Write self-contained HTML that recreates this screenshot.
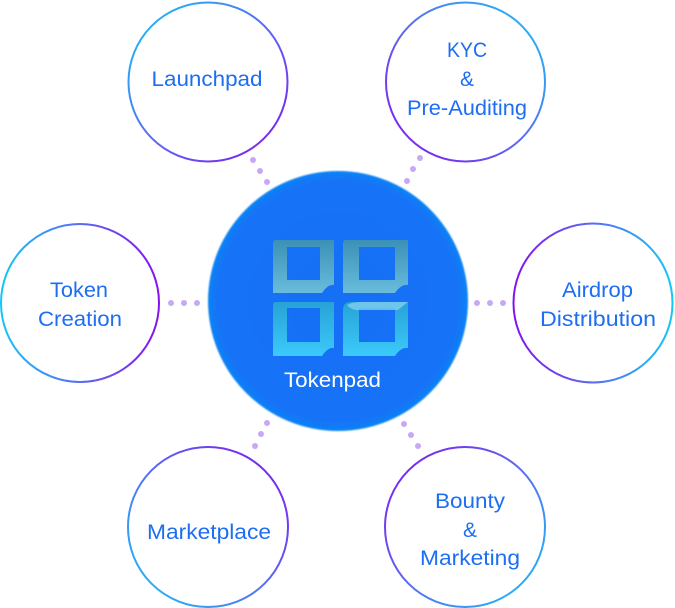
<!DOCTYPE html>
<html>
<head>
<meta charset="utf-8">
<style>
  html, body { margin: 0; padding: 0; background: #ffffff; }
  body { width: 675px; height: 608px; overflow: hidden; }
  svg { display: block; }
  .lbl { font-family: "Liberation Sans", sans-serif; font-size: 21px; fill: #1d6ef2; }
</style>
</head>
<body>
<svg width="675" height="608" viewBox="0 0 675 608" xmlns="http://www.w3.org/2000/svg">
  <defs>
    <linearGradient id="gLaunch" x1="0" y1="0" x2="1" y2="1">
      <stop offset="0" stop-color="#14c6f6"/>
      <stop offset="0.5" stop-color="#5a6cf2"/>
      <stop offset="1" stop-color="#8412ef"/>
    </linearGradient>
    <linearGradient id="gKyc" x1="1" y1="0" x2="0" y2="1">
      <stop offset="0" stop-color="#14c6f6"/>
      <stop offset="0.5" stop-color="#5a6cf2"/>
      <stop offset="1" stop-color="#8412ef"/>
    </linearGradient>
    <linearGradient id="gToken" x1="0" y1="0.5" x2="1" y2="0.5">
      <stop offset="0" stop-color="#14c6f6"/>
      <stop offset="0.5" stop-color="#5a6cf2"/>
      <stop offset="1" stop-color="#8412ef"/>
    </linearGradient>
    <linearGradient id="gAir" x1="1" y1="0.5" x2="0" y2="0.5">
      <stop offset="0" stop-color="#14c6f6"/>
      <stop offset="0.5" stop-color="#5a6cf2"/>
      <stop offset="1" stop-color="#8412ef"/>
    </linearGradient>
    <linearGradient id="gMarket" x1="0" y1="1" x2="1" y2="0">
      <stop offset="0" stop-color="#14c6f6"/>
      <stop offset="0.5" stop-color="#5a6cf2"/>
      <stop offset="1" stop-color="#8412ef"/>
    </linearGradient>
    <linearGradient id="gBounty" x1="1" y1="1" x2="0" y2="0">
      <stop offset="0" stop-color="#14c6f6"/>
      <stop offset="0.5" stop-color="#5a6cf2"/>
      <stop offset="1" stop-color="#8412ef"/>
    </linearGradient>
    <radialGradient id="gCenter" cx="0.5" cy="0.5" r="0.5">
      <stop offset="0" stop-color="#166ff6"/>
      <stop offset="0.93" stop-color="#1472f6"/>
      <stop offset="1" stop-color="#0d84f5"/>
    </radialGradient>
    <linearGradient id="gTileTop" x1="0" y1="0" x2="0" y2="1">
      <stop offset="0" stop-color="#3a90b6"/>
      <stop offset="1" stop-color="#69bcdc"/>
    </linearGradient>
    <linearGradient id="gTileBot" x1="0" y1="0" x2="0" y2="1">
      <stop offset="0" stop-color="#27a2d6"/>
      <stop offset="1" stop-color="#3ccafb"/>
    </linearGradient>
    <filter id="soft" x="-5%" y="-5%" width="110%" height="110%">
      <feGaussianBlur stdDeviation="0.8"/>
    </filter>
  </defs>

  <!-- dots -->
  <g fill="#c6a8f5">
    <circle cx="253" cy="160" r="3"/>
    <circle cx="260" cy="171" r="3"/>
    <circle cx="267" cy="182" r="3"/>

    <circle cx="420" cy="158" r="3"/>
    <circle cx="413" cy="169" r="3"/>
    <circle cx="407" cy="181" r="3"/>

    <circle cx="171" cy="303" r="3"/>
    <circle cx="184" cy="303" r="3"/>
    <circle cx="197" cy="303" r="3"/>

    <circle cx="477" cy="303" r="3"/>
    <circle cx="490" cy="303" r="3"/>
    <circle cx="503" cy="303" r="3"/>

    <circle cx="267" cy="423" r="3"/>
    <circle cx="261" cy="434" r="3"/>
    <circle cx="255" cy="446" r="3"/>

    <circle cx="404" cy="424" r="3"/>
    <circle cx="411" cy="435" r="3"/>
    <circle cx="418" cy="446" r="3"/>
  </g>

  <!-- outer circles -->
  <circle cx="208" cy="82" r="79.5" fill="#fff" stroke="url(#gLaunch)" stroke-width="2"/>
  <circle cx="465.5" cy="82" r="79.5" fill="#fff" stroke="url(#gKyc)" stroke-width="2"/>
  <circle cx="80" cy="303" r="79" fill="#fff" stroke="url(#gToken)" stroke-width="2"/>
  <circle cx="593" cy="303" r="79.5" fill="#fff" stroke="url(#gAir)" stroke-width="2"/>
  <circle cx="208" cy="527" r="80" fill="#fff" stroke="url(#gMarket)" stroke-width="2"/>
  <circle cx="465" cy="527" r="80" fill="#fff" stroke="url(#gBounty)" stroke-width="2"/>

  <!-- center circle -->
  <circle cx="338" cy="301" r="130" fill="url(#gCenter)" filter="url(#soft)"/>

  <!-- icon tiles -->
  <path fill="url(#gTileTop)" fill-rule="evenodd"
        d="M276,240 L334,240 L334,285 Q328,284 322,293 L273,293 L273,243 Q273,240 276,240 Z
           M287,247 L320,247 L320,280 L287,280 Z"/>
  <path fill="url(#gTileTop)" fill-rule="evenodd"
        d="M346,240 L408,240 L408,285 Q401,284 395,293 L343,293 L343,243 Q343,240 346,240 Z
           M359,247 L395,247 L395,280 L359,280 Z"/>
  <path fill="url(#gTileBot)" fill-rule="evenodd"
        d="M276,302 L334,302 L334,348 Q328,347 322,356 L273,356 L273,305 Q273,302 276,302 Z
           M287,308 L320,308 L320,342 L287,342 Z"/>
  <path fill="url(#gTileBot)" fill-rule="evenodd"
        d="M350,302 L408,302 L408,348 Q401,347 395,356 L343,356 L343,309 Q344,302 350,302 Z
           M359,308 L395,308 L395,342 L359,342 Z"/>
  <path fill="#7fd0ee" opacity="0.8" d="M347,305 Q352,302 360,302 L408,302 L398,310 L356,310 Q350,309 347,305 Z"/>

  <text x="332.5" y="387" text-anchor="middle" font-family="Liberation Sans, sans-serif" font-size="21" fill="#ffffff" textLength="97" lengthAdjust="spacingAndGlyphs">Tokenpad</text>

  <!-- labels -->
  <text class="lbl" x="207" y="86" text-anchor="middle" textLength="111" lengthAdjust="spacingAndGlyphs">Launchpad</text>

  <text class="lbl" x="467" y="57" text-anchor="middle" textLength="40" lengthAdjust="spacingAndGlyphs">KYC</text>
  <text class="lbl" x="467" y="86" text-anchor="middle">&amp;</text>
  <text class="lbl" x="467" y="115" text-anchor="middle" textLength="120" lengthAdjust="spacingAndGlyphs">Pre-Auditing</text>

  <text class="lbl" x="79" y="297" text-anchor="middle" textLength="58" lengthAdjust="spacingAndGlyphs">Token</text>
  <text class="lbl" x="80" y="326" text-anchor="middle" textLength="84" lengthAdjust="spacingAndGlyphs">Creation</text>

  <text class="lbl" x="597.5" y="297" text-anchor="middle" textLength="71" lengthAdjust="spacingAndGlyphs">Airdrop</text>
  <text class="lbl" x="598" y="326" text-anchor="middle" textLength="116" lengthAdjust="spacingAndGlyphs">Distribution</text>

  <text class="lbl" x="209" y="539" text-anchor="middle" textLength="124" lengthAdjust="spacingAndGlyphs">Marketplace</text>

  <text class="lbl" x="470" y="508" text-anchor="middle" textLength="70" lengthAdjust="spacingAndGlyphs">Bounty</text>
  <text class="lbl" x="470" y="537" text-anchor="middle">&amp;</text>
  <text class="lbl" x="470" y="565" text-anchor="middle" textLength="100" lengthAdjust="spacingAndGlyphs">Marketing</text>
</svg>
</body>
</html>
